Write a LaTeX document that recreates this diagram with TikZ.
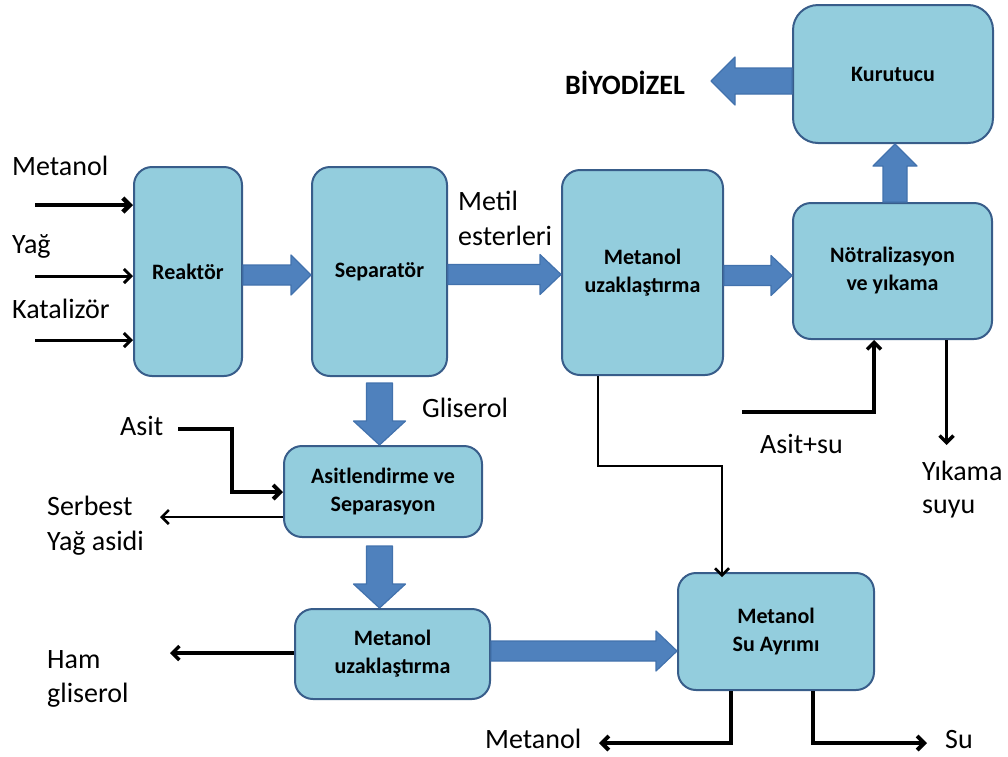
\documentclass[tikz,border=0pt]{standalone}
\usepackage{fontspec}
\setmainfont{Carlito}
\usetikzlibrary{arrows.meta,calc}
\definecolor{boxfill}{HTML}{93CDDD}
\definecolor{boxline}{HTML}{385D8A}
\definecolor{arrfill}{HTML}{4F81BD}
\definecolor{arrline}{HTML}{4272AD}
\newcommand\blockarrow[5]{%
  \draw[barrow] let \p1=(#1), \p2=(#2),
    \n1={atan2((\y2)-(\y1),(\x2)-(\x1))}, \n2={veclen((\x2)-(\x1),(\y2)-(\y1))} in
  [shift={(\p1)}, rotate=\n1] (0pt,#3pt) -- (\n2-#5pt,#3pt) -- (\n2-#5pt,#4pt)
  -- (\n2,0pt) -- (\n2-#5pt,-#4pt) -- (\n2-#5pt,-#3pt) -- (0pt,-#3pt) -- cycle;}
\tikzset{
  box/.style={draw=boxline, fill=boxfill, line width=2pt, rounded corners=18pt,
    align=center, font=\fontsize{22}{28}\selectfont\bfseries, inner sep=0pt},
  barrow/.style={draw=arrline, fill=arrfill, line width=1.2pt, line join=round},
  lbl/.style={font=\fontsize{28}{32}\selectfont, inner sep=0pt, anchor=base west},
  link/.style={-{Straight Barb[length=7pt,width=14pt]}},
}
\begin{document}
\begin{tikzpicture}[x=1pt,y=-1pt]
\useasboundingbox (0,0) rectangle (1008,756);
% boxes
\node[box, minimum width=108pt, minimum height=209pt] (reak) at (188,271.5) {Reaktör};
\node[box, minimum width=135pt, minimum height=209pt] (sep) at (379.5,271.5) {Separatör};
\node[box, minimum width=161pt, minimum height=205pt] (mu1) at (642.5,272.5) {Metanol\\uzaklaştırma};
\node[box, minimum width=199pt, minimum height=136pt] (notr) at (892.5,271) {Nötralizasyon\\ve yıkama};
\node[box, minimum width=200pt, minimum height=138pt, rounded corners=25pt] (kuru) at (893,74) {Kurutucu};
\node[box, minimum width=198pt, minimum height=91pt] (asb) at (383,491.5) {Asitlendirme ve\\Separasyon};
\node[box, minimum width=195pt, minimum height=90pt] (mu2) at (392.5,654) {Metanol\\uzaklaştırma};
\node[box, minimum width=196pt, minimum height=117pt] (say) at (776,631.5) {Metanol\\Su Ayrımı};
% block arrow end points
\path (reak.east) ++(0,3.5) coordinate (b1s);
\coordinate (b1e) at (b1s -| sep.west);
\path (sep.east) ++(0,3) coordinate (b2s);
\coordinate (b2e) at (b2s -| mu1.west);
\path (mu1.east) ++(0,3) coordinate (b3s);
\coordinate (b3e) at (b3s -| notr.west);
\path (notr.north) ++(2.5,0) coordinate (b4s);
\coordinate (b4e) at (b4s |- kuru.south);
\path (kuru.west) ++(0,7) coordinate (b5s);
\coordinate (bio) at (711,81);
\path (sep.south) ++(0,6) coordinate (b6s);
\coordinate (b6e) at (b6s |- asb.north);
\path (asb.south -| b6s) ++(0,8) coordinate (b7s);
\coordinate (b7e) at (b7s |- mu2.north);
\path (mu2.east) ++(0,-3) coordinate (b8s);
\coordinate (b8e) at (b8s -| say.west);
\blockarrow{b1s}{b1e}{10}{20}{20}
\blockarrow{b2s}{b2e}{10}{20}{21}
\blockarrow{b3s}{b3e}{10}{20}{21}
\blockarrow{b4s}{b4e}{12}{22}{22}
\blockarrow{b5s}{bio}{13}{24}{24}
\blockarrow{b6s}{b6e}{13}{26}{24}
\blockarrow{b7s}{b7e}{13}{26}{24}
\blockarrow{b8s}{b8e}{10}{20}{21}
% thin connectors
\coordinate (inM) at (35,205);
\coordinate (inY) at (35,276);
\coordinate (inK) at (35,340);
\draw[link, line width=4.5pt] (inM) -- (inM -| reak.west);
\draw[link, line width=3pt] (inY) -- (inY -| reak.west);
\draw[link, line width=3pt] (inK) -- (inK -| reak.west);
\coordinate (asitS) at (178,429);
\coordinate (asitK) at (232,492);
\draw[link, line width=4pt] (asitS) -| (asitK) -- (asitK -| asb.west);
\coordinate (serE) at (160,517);
\draw[link, line width=2.5pt] (asb.west |- serE) -- (serE);
\coordinate (hamE) at (170,653);
\draw[link, line width=3.5pt] (mu2.west |- hamE) -- (hamE);
\coordinate (m1b) at ($(mu1.south)+(-44.5,0)$);
\coordinate (sayT) at ($(say.north)+(-54,5)$);
\draw[link, line width=2.5pt] (m1b) -- ++(0,90) -| (sayT);
\coordinate (asuS) at (742,412);
\coordinate (notrB) at ($(notr.south)+(-18.5,0)$);
\draw[link, line width=3.5pt] (asuS) -| (notrB);
\coordinate (yk0) at ($(notr.south)+(54,0)$);
\coordinate (ykE) at (946.5,445);
\draw[link, line width=3.5pt] (yk0) -- (ykE);
\coordinate (sm) at ($(say.south)+(-45,0)$);
\coordinate (metE) at (599,743);
\draw[link, line width=4pt] (sm) |- (metE);
\coordinate (ss) at ($(say.south)+(37,0)$);
\coordinate (suE) at (927,743);
\draw[link, line width=4pt] (ss) |- (suE);
% labels
\node[lbl] (lM) at (12,175) {Metanol};
\node[lbl] (lY) at (12,253) {Yağ};
\node[lbl] (lK) at (12,318) {Katalizör};
\node[lbl] (lMe1) at (458,210) {Metil};
\node[lbl] (lMe2) at (458,245) {esterleri};
\node[lbl] (lG) at (422,417) {Gliserol};
\node[lbl] (lA) at (120,435) {Asit};
\node[lbl] (lS1) at (47,515) {Serbest};
\node[lbl] (lS2) at (47,550) {Yağ asidi};
\node[lbl] (lH1) at (47,668) {Ham};
\node[lbl] (lH2) at (47,702) {gliserol};
\node[lbl] (lAs) at (760,453) {Asit+su};
\node[lbl] (lY1) at (922,480) {Yıkama};
\node[lbl] (lY2) at (922,513) {suyu};
\node[lbl] (lMb) at (485,748) {Metanol};
\node[lbl] (lSu) at (945,748) {Su};
\node[lbl, font=\fontsize{28}{32}\selectfont\bfseries] (lB) at (565,94) {BİYODİZEL};
\end{tikzpicture}
\end{document}
